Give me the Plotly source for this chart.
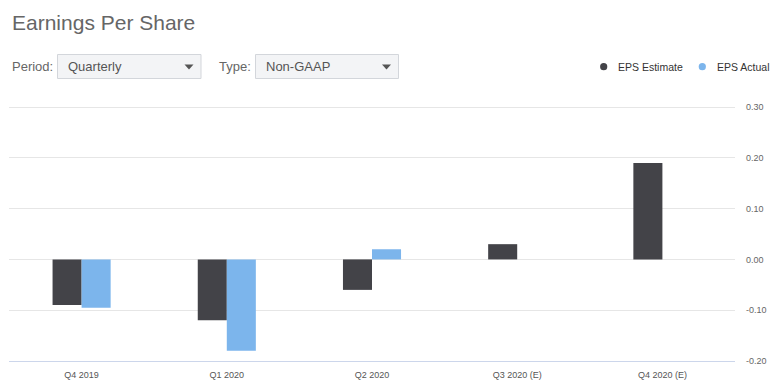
import plotly.graph_objects as go

categories = ["Q4 2019", "Q1 2020", "Q2 2020", "Q3 2020 (E)", "Q4 2020 (E)"]
eps_estimate = [-0.09, -0.12, -0.06, 0.03, 0.19]
eps_actual = [-0.095, -0.18, 0.02, None, None]
y_ticks = [-0.20, -0.10, 0.00, 0.10, 0.20, 0.30]
series_names = ["EPS Estimate", "EPS Actual"]

W, H = 779, 385
L, R, T, B = 9, 44, 106, 24
PW, PH = W - L - R, H - T - B


def px(x):
    return (x - L) / PW


def py(y):
    return (H - B - y) / PH


EST_COLOR = "#434348"
ACT_COLOR = "#7cb5ec"
FONT = "Liberation Sans, Arial, sans-serif"

fig = go.Figure()
fig.add_trace(go.Bar(x=categories, y=eps_estimate, name=series_names[0],
                     marker=dict(color=EST_COLOR, line=dict(width=0)), showlegend=False))
fig.add_trace(go.Bar(x=categories, y=eps_actual, name=series_names[1],
                     marker=dict(color=ACT_COLOR, line=dict(width=0)), showlegend=False))

shapes = []
annotations = []

# title
annotations.append(dict(text="Earnings Per Share", x=px(10), y=py(22), xref="paper", yref="paper",
                        xanchor="left", yanchor="middle", showarrow=False,
                        font=dict(family=FONT, size=21, color="#666666")))

# dropdown controls
def dropdown(label, label_x, box_x0, box_x1, value):
    annotations.append(dict(text=label, x=px(label_x), y=py(66.5), xref="paper", yref="paper",
                            xanchor="left", yanchor="middle", showarrow=False,
                            font=dict(family=FONT, size=13, color="#666666")))
    shapes.append(dict(type="rect", xref="paper", yref="paper",
                       x0=px(box_x0), x1=px(box_x1), y0=py(54.5), y1=py(78.5),
                       fillcolor="#f3f4f6", line=dict(color="#d3d6db", width=1)))
    annotations.append(dict(text=value, x=px(box_x0 + 8), y=py(66.5), xref="paper", yref="paper",
                            xanchor="left", yanchor="middle", showarrow=False,
                            font=dict(family=FONT, size=13, color="#555555")))
    ax = box_x1 - 12
    shapes.append(dict(type="path", xref="paper", yref="paper",
                       path=f"M {px(ax-4.5)} {py(64.5)} L {px(ax+4.5)} {py(64.5)} L {px(ax)} {py(69.5)} Z",
                       fillcolor="#555555", line=dict(width=0)))

dropdown("Period:", 10, 57.5, 201, "Quarterly")
dropdown("Type:", 217, 255.5, 398.5, "Non-GAAP")

# legend (circle symbols + labels)
for name, color, cx in [(series_names[0], EST_COLOR, 603.7), (series_names[1], ACT_COLOR, 702.3)]:
    r = 3.6
    shapes.append(dict(type="circle", xref="paper", yref="paper",
                       x0=px(cx - r), x1=px(cx + r), y0=py(66.7 + r), y1=py(66.7 - r),
                       fillcolor=color, line=dict(width=0)))
    annotations.append(dict(text=name, x=px(cx + 12.5), y=py(66.7), xref="paper", yref="paper",
                            xanchor="left", yanchor="middle", showarrow=False,
                            font=dict(family=FONT, size=10.5, color="#333333")))

fig.update_layout(
    width=W, height=H,
    margin=dict(l=L, r=R, t=T, b=B, pad=0),
    paper_bgcolor="white", plot_bgcolor="white",
    barmode="group", bargap=0.6, bargroupgap=0,
    font=dict(family=FONT, size=9, color="#666666"),
    shapes=shapes, annotations=annotations,
    showlegend=False,
    xaxis=dict(type="category", showgrid=False, showline=True, linecolor="#ccd6eb", linewidth=1,
               ticks="", tickfont=dict(size=9, color="#555555"), ticklabelstandoff=5,
               automargin=False, fixedrange=True),
    yaxis=dict(side="right", range=[-0.2, 0.302], tickvals=y_ticks,
               ticktext=[f"{v:.2f}" for v in y_ticks],
               showgrid=True, gridcolor="#e6e6e6", gridwidth=1,
               zeroline=True, zerolinecolor="#e6e6e6", zerolinewidth=1,
               showline=False, ticks="", ticklabelstandoff=10,
               tickfont=dict(size=9, color="#666666"), automargin=False, fixedrange=True),
)

fig.write_html("out.html", config={"displayModeBar": False},
               post_script="document.body.style.margin='0';document.body.style.padding='0';")
